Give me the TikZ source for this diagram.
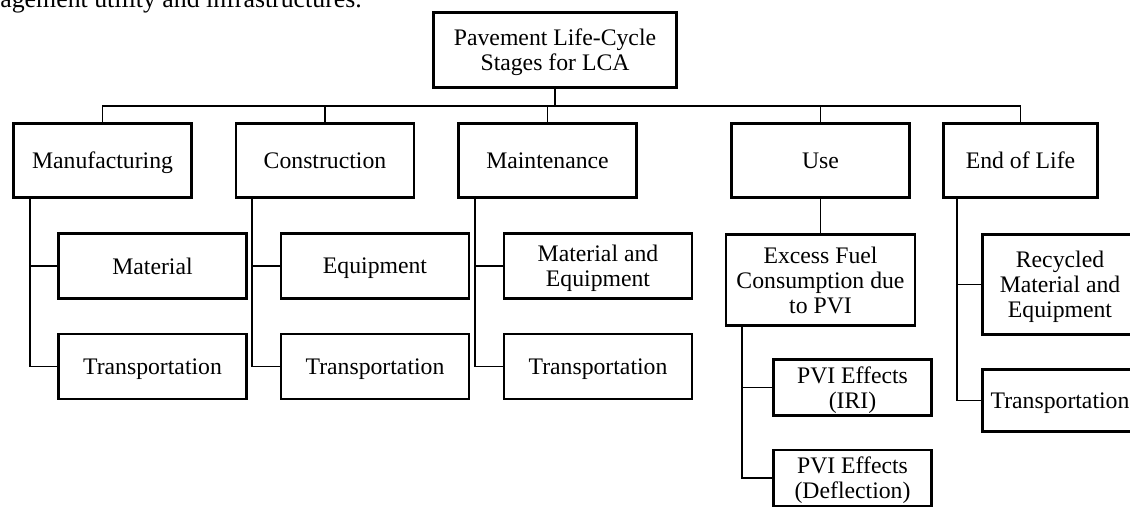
\documentclass[tikz,border=0pt]{standalone}
\usepackage{fontspec}
\setmainfont{Liberation Serif}
\usetikzlibrary{calc, positioning}

\begin{document}
\begin{tikzpicture}[
  x=0.02cm, y=-0.02cm,
  every node/.style={inner sep=0pt, align=center, text depth=0pt, font=\fontsize{13.5}{14.2}\selectfont},
  box/.style={draw, line width=1.6pt},
  stage/.style={box, minimum width=3.56cm, minimum height=1.48cm},
  sub/.style={box, minimum width=3.76cm, minimum height=1.3cm},
  link/.style={line width=1.1pt}
]
  \useasboundingbox (0,0) rectangle (1130,508);
  \clip (0,0) rectangle (1130,508);

  % cut-off line of the page above
  \node[anchor=base west, font=\fontsize{14.7}{16}\selectfont] (pagetext) at (0,7) {agement utility and infrastructures.};

  % root and stages
  \node[box, minimum width=4.86cm, minimum height=1.5cm] (top) at (555,50) {Pavement Life-Cycle\\Stages for LCA};
  \node[stage] (manu) at (102.5,160.5) {Manufacturing};
  \node[stage] (cons) at (325,160.5)   {Construction};
  \node[stage] (main) at (547.5,160.5) {Maintenance};
  \node[stage] (use)  at (820.5,160.5) {Use};
  \node[stage, minimum width=3.08cm] (eol) at (1020.5,160.5) {End of Life};

  % sub-items
  \node[sub] (manuMat) at (152.5,266)   {Material};
  \node[sub] (manuTra) at (152.5,366.5) {Transportation};
  \node[sub] (consEqu) at (375,266)     {Equipment};
  \node[sub] (consTra) at (375,366.5)   {Transportation};
  \node[sub] (mainMat) at (598,266)     {Material and\\Equipment};
  \node[sub] (mainTra) at (598,366.5)   {Transportation};
  \node[box, minimum width=3.78cm, minimum height=1.82cm] (fuel) at (820.5,280) {Excess Fuel\\Consumption due\\to PVI};
  \node[box, minimum width=3.16cm, minimum height=1.12cm] (fuelIRI) at (852.5,387.5) {PVI Effects\\(IRI)};
  \node[box, minimum width=3.16cm, minimum height=1.12cm] (fuelDef) at (852.5,478)   {PVI Effects\\(Deflection)};
  \node[box, minimum width=3.1cm, minimum height=2cm]    (eolRec) at (1060,284.5) {Recycled\\Material and\\Equipment};
  \node[box, minimum width=3.1cm, minimum height=1.24cm] (eolTra) at (1060,400.5) {Transportation};

  % root to stages
  \coordinate (bus) at ($(top.south)+(0,17)$);
  \draw[line width=1.6pt] (top.south) -- (bus);
  \foreach \s in {manu,cons,main,use,eol}
    \draw[link] (\s.north) |- (bus);

  % stages to sub-items
  \draw[link] (use.south) -- (fuel.north);
  \foreach \s/\d/\a/\b in {manu/18/manuMat/manuTra, cons/17/consEqu/consTra, main/17.5/mainMat/mainTra,
                           fuel/17.5/fuelIRI/fuelDef, eol/14.5/eolRec/eolTra} {
    \coordinate (\s T) at ($(\s.south west)+(\d,0)$);
    \draw[link] (\s T) |- (\a.west);
    \draw[link] (\s T) |- (\b.west);
  }
\end{tikzpicture}
\end{document}
